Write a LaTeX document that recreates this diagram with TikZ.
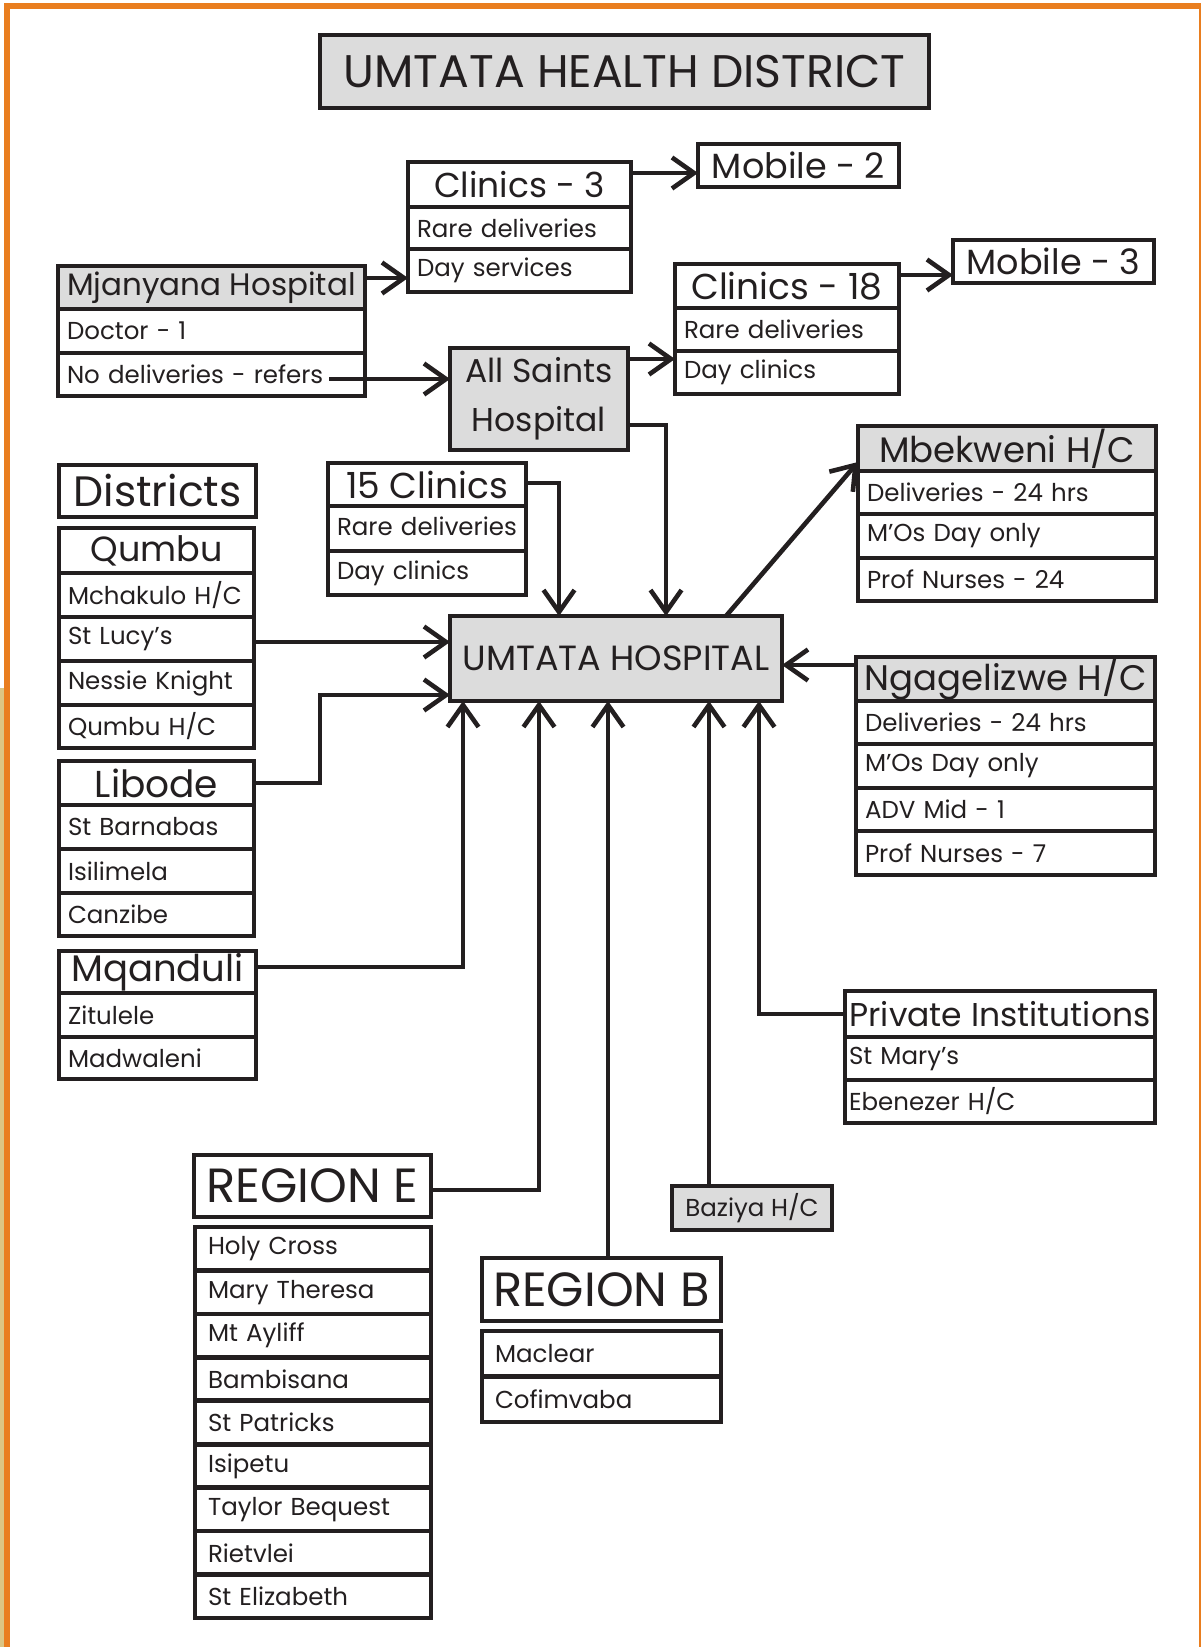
\documentclass[tikz,border=0pt]{standalone}
\usepackage{fontspec}
\setmainfont{Poppins}
\usetikzlibrary{arrows.meta}
\definecolor{ink}{HTML}{231F20}
\definecolor{boxgray}{HTML}{DCDCDC}
\definecolor{frameorange}{HTML}{E97E1F}
\definecolor{frametan}{HTML}{DCC583}
\newcommand\fs[1]{\fontsize{#1}{#1}\selectfont}
\begin{document}
\begin{tikzpicture}[x=1pt,y=-1pt,
  cell/.style={draw=ink, line width=4.6pt, inner xsep=9pt, inner ysep=0pt, outer sep=0pt,
    anchor=north west, align=left, text=ink, font=\fs{24.5}},
  hd/.style={draw=ink, line width=4.6pt, inner sep=0pt, outer sep=0pt,
    anchor=north west, align=center, text=ink, font=\fs{35}},
  shade/.style={fill=boxgray},
  arr/.style={draw=ink, line width=4.6pt, line join=miter,
    -{Straight Barb[length=22pt,width=31pt,line width=4.6pt]}}]
\useasboundingbox (0,0) rectangle (1201,1647);
% frame
\fill[frameorange] (4,3) rectangle (1201,9);
\fill[frameorange] (4,3) rectangle (10,1647);
\fill[frametan] (0,688) rectangle (4,1647);
\fill[frameorange] (1199,3) rectangle (1200.5,1647);
% title
\node[hd, shade, font=\fs{45.7}, minimum width=609pt, minimum height=73pt] (title) at (320,35) {UMTATA HEALTH DISTRICT};
% clinics 3
\node[hd, font=\fs{34.5}, minimum width=223pt, minimum height=45pt] (c3h) at (408,162) {Clinics - 3};
\node[cell, text width=205pt, minimum height=42pt] (c3a) at (408,207) {Rare deliveries};
\node[cell, text width=205pt, minimum height=43pt] (c3b) at (408,249) {Day services};
\node[hd, font=\fs{35}, minimum width=201pt, minimum height=43pt] (mob2) at (698,144) {Mobile - 2};
% Mjanyana
\node[hd, shade, font=\fs{31}, minimum width=307pt, minimum height=43pt] (mjh) at (58,266) {Mjanyana Hospital};
\node[cell, text width=289pt, minimum height=44pt] (mjb) at (58,309) {Doctor - 1};
\node[cell, text width=289pt, minimum height=43pt] (mjc) at (58,353) {No deliveries - refers};
\coordinate (nd) at (329,379);
% All Saints
\node[hd, shade, font=\fontsize{33}{49}\selectfont, minimum width=178pt, minimum height=102pt] (as) at (450,348) {All Saints\\Hospital};
% clinics 18
\node[hd, font=\fs{36}, minimum width=224pt, minimum height=44pt] (c18h) at (675,264) {Clinics - 18};
\node[cell, text width=206pt, minimum height=43pt] (c18a) at (675,308) {Rare deliveries};
\node[cell, text width=206pt, minimum height=43pt] (c18b) at (675,351) {Day clinics};
\node[hd, font=\fs{35}, minimum width=201pt, minimum height=43pt] (mob3) at (953,240) {Mobile - 3};
% Districts
\node[hd, font=\fs{42.5}, minimum width=197pt, minimum height=52pt] (dist) at (59,465) {Districts};
% Qumbu
\node[hd, font=\fs{35}, minimum width=195pt, minimum height=45pt] (qh) at (59,528) {Qumbu};
\node[cell, text width=177pt, minimum height=44pt] (q1) at (59,573) {Mchakulo H/C};
\node[cell, text width=177pt, minimum height=44pt] (q2) at (59,617) {St Lucy’s};
\node[cell, text width=177pt, minimum height=44pt] (q3) at (59,661) {Nessie Knight};
\node[cell, text width=177pt, minimum height=43pt] (q4) at (59,705) {Qumbu H/C};
% Libode
\node[hd, font=\fs{37.5}, minimum width=195pt, minimum height=44pt] (lh) at (59,761) {Libode};
\node[cell, text width=177pt, minimum height=44pt] (l1) at (59,805) {St Barnabas};
\node[cell, text width=177pt, minimum height=44pt] (l2) at (59,849) {Isilimela};
\node[cell, text width=177pt, minimum height=43pt] (l3) at (59,893) {Canzibe};
% Mqanduli
\node[hd, font=\fs{37}, minimum width=197pt, minimum height=42pt] (mh) at (59,951) {Mqanduli};
\node[cell, text width=179pt, minimum height=44pt] (m1) at (59,993) {Zitulele};
\node[cell, text width=179pt, minimum height=42pt] (m2) at (59,1037) {Madwaleni};
% 15 clinics
\node[hd, font=\fs{36}, minimum width=198pt, minimum height=43pt] (fh) at (328,463) {15 Clinics};
\node[cell, text width=180pt, minimum height=45pt] (f1) at (328,506) {\raisebox{5pt}{Rare deliveries}};
\node[cell, text width=180pt, minimum height=44pt] (f2) at (328,551) {\raisebox{-3pt}{Day clinics}};
% Umtata hospital
\node[hd, shade, font=\fs{35}, minimum width=332pt, minimum height=85pt] (umt) at (450,616) {UMTATA HOSPITAL};
% Mbekweni
\node[hd, shade, font=\fs{35.5}, minimum width=298pt, minimum height=45pt] (bh) at (858,426) {Mbekweni H/C};
\node[cell, text width=280pt, minimum height=43pt] (b1) at (858,471) {Deliveries - 24 hrs};
\node[cell, text width=280pt, minimum height=44pt] (b2) at (858,514) {M’Os Day only};
\node[cell, text width=280pt, minimum height=43pt] (b3) at (858,558) {Prof Nurses - 24};
% Ngagelizwe
\node[hd, shade, font=\fs{35.5}, minimum width=299pt, minimum height=44pt] (nh) at (856,657) {Ngagelizwe H/C};
\node[cell, text width=281pt, minimum height=43pt] (n1) at (856,701) {Deliveries - 24 hrs};
\node[cell, text width=281pt, minimum height=44pt] (n2) at (856,744) {M’Os Day only};
\node[cell, text width=281pt, minimum height=43pt] (n3) at (856,788) {ADV Mid - 1};
\node[cell, text width=281pt, minimum height=44pt] (n4) at (856,831) {Prof Nurses - 7};
% Private
\node[hd, font=\fs{33}, minimum width=310pt, minimum height=46pt] (ph) at (845,991) {Private Institutions};
\node[cell, inner xsep=4pt, text width=302pt, minimum height=43pt] (p1) at (845,1037) {St Mary’s};
\node[cell, inner xsep=4pt, text width=302pt, minimum height=43pt] (p2) at (845,1080) {Ebenezer H/C};
% Region E
\node[hd, font=\fs{48}, minimum width=237pt, minimum height=62pt] (re) at (194,1155) {REGION E};
\node[cell, inner xsep=13pt, text width=210pt, minimum height=43.44pt] (e1) at (195,1227) {Holy Cross};
\node[cell, inner xsep=13pt, text width=210pt, minimum height=43.44pt] (e2) at (195,1270.44) {Mary Theresa};
\node[cell, inner xsep=13pt, text width=210pt, minimum height=43.44pt] (e3) at (195,1313.89) {Mt Ayliff};
\node[cell, inner xsep=13pt, text width=210pt, minimum height=43.44pt] (e4) at (195,1357.33) {Bambisana};
\node[cell, inner xsep=13pt, text width=210pt, minimum height=43.44pt] (e5) at (195,1400.78) {St Patricks};
\node[cell, inner xsep=13pt, text width=210pt, minimum height=43.44pt] (e6) at (195,1444.22) {Isipetu};
\node[cell, inner xsep=13pt, text width=210pt, minimum height=43.44pt] (e7) at (195,1487.67) {Taylor Bequest};
\node[cell, inner xsep=13pt, text width=210pt, minimum height=43.44pt] (e8) at (195,1531.11) {Rietvlei};
\node[cell, inner xsep=13pt, text width=210pt, minimum height=43.44pt] (e9) at (195,1574.56) {St Elizabeth};
% Region B
\node[hd, font=\fs{48}, minimum width=239pt, minimum height=63pt] (rb) at (482,1258) {REGION B};
\node[cell, inner xsep=13pt, text width=213pt, minimum height=45.5pt] (rb1) at (482,1331) {Maclear};
\node[cell, inner xsep=13pt, text width=213pt, minimum height=45.5pt] (rb2) at (482,1376.5) {Cofimvaba};
% Baziya
\node[hd, shade, font=\fs{24.5}, minimum width=160pt, minimum height=44pt] (bz) at (672,1186) {Baziya H/C};
% connectors
\draw[arr] (c3h.east |- 0,173) -- (mob2.west |- 0,173);
\draw[arr] (mjh.east |- 0,278) -- (c3b.west |- 0,278);
\draw[arr] (nd) -- (as.west |- nd);
\draw[arr] (as.east |- 0,359) -- (c18b.west |- 0,359);
\draw[arr] (c18h.east |- 0,275) -- (mob3.west |- 0,275);
\draw[arr] (as.east |- 0,425) -| (umt.north -| 666,0);
\draw[arr] (fh.east |- 0,483) -| (umt.north -| 559,0);
\draw[arr] (umt.north -| 726,0) -- (bh.west |- 0,462);
\draw[arr] (nh.west |- 0,665) -- (umt.east |- 0,665);
\draw[arr] (q2.east |- 0,642) -- (umt.west |- 0,642);
\draw[arr] (lh.east) -- (lh.east -| 320,0) |- (umt.west |- 0,695);
\draw[arr] (mh.east |- 0,967) -| (umt.south -| 463,0);
\draw[arr] (re.east |- 0,1190) -| (umt.south -| 539,0);
\draw[arr] (rb.north -| 608,0) -- (umt.south -| 608,0);
\draw[arr] (bz.north -| 709,0) -- (umt.south -| 709,0);
\draw[arr] (ph.west |- 0,1014) -| (umt.south -| 759,0);
\end{tikzpicture}
\end{document}
